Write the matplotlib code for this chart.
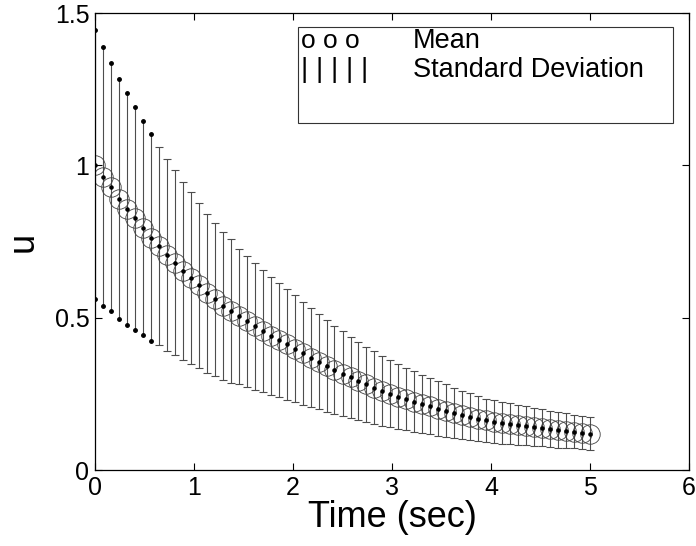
import numpy as np
import matplotlib
matplotlib.use('Agg')
import matplotlib.pyplot as plt
from matplotlib.patches import Rectangle

plt.rcParams['font.family'] = ['Liberation Sans', 'DejaVu Sans']

# sample times (sec)
time = [0.000, 0.081, 0.161, 0.242, 0.323, 0.403, 0.484, 0.565, 0.645, 0.726,
        0.806, 0.887, 0.968, 1.048, 1.129, 1.210, 1.290, 1.371, 1.452, 1.532,
        1.613, 1.694, 1.774, 1.855, 1.935, 2.016, 2.097, 2.177, 2.258, 2.339,
        2.419, 2.500, 2.581, 2.661, 2.742, 2.823, 2.903, 2.984, 3.065, 3.145,
        3.226, 3.306, 3.387, 3.468, 3.548, 3.629, 3.710, 3.790, 3.871, 3.952,
        4.032, 4.113, 4.194, 4.274, 4.355, 4.435, 4.516, 4.597, 4.677, 4.758,
        4.839, 4.919, 5.000]

# mean of u
u_mean = [1.003, 0.963, 0.928, 0.891, 0.857, 0.826, 0.794, 0.763, 0.736, 0.707,
          0.681, 0.654, 0.631, 0.607, 0.581, 0.560, 0.539, 0.522, 0.505, 0.488,
          0.472, 0.456, 0.441, 0.427, 0.413, 0.399, 0.384, 0.369, 0.355, 0.342,
          0.329, 0.316, 0.304, 0.293, 0.281, 0.271, 0.260, 0.250, 0.241, 0.233,
          0.225, 0.217, 0.209, 0.202, 0.195, 0.188, 0.181, 0.175, 0.169, 0.163,
          0.159, 0.156, 0.152, 0.149, 0.145, 0.142, 0.139, 0.135, 0.132, 0.129,
          0.126, 0.123, 0.120]

# standard deviation of u
u_std = [0.441, 0.426, 0.407, 0.394, 0.381, 0.366, 0.352, 0.339, 0.325, 0.315,
         0.303, 0.292, 0.282, 0.271, 0.261, 0.251, 0.243, 0.235, 0.222, 0.215,
         0.208, 0.201, 0.194, 0.188, 0.182, 0.176, 0.169, 0.162, 0.156, 0.150,
         0.145, 0.139, 0.134, 0.129, 0.124, 0.119, 0.114, 0.110, 0.106, 0.103,
         0.099, 0.095, 0.092, 0.089, 0.086, 0.083, 0.080, 0.077, 0.074, 0.072,
         0.070, 0.069, 0.067, 0.066, 0.064, 0.062, 0.061, 0.059, 0.058, 0.057,
         0.055, 0.054, 0.053]

t = np.array(time)
m = np.array(u_mean)
s = np.array(u_std)

fig = plt.figure(figsize=(6.96, 5.46), dpi=100)
ax = fig.add_axes([0.1365, 0.139, 0.8535, 0.837])

# error bars (std) - first 8 drawn with dots at the ends instead of caps
ax.errorbar(t[:8], m[:8], yerr=s[:8], fmt='none', ecolor='0.3',
            elinewidth=0.8, capsize=0)
ax.errorbar(t[8:], m[8:], yerr=s[8:], fmt='none', ecolor='0.3',
            elinewidth=0.8, capsize=3, capthick=0.8)
ax.plot(t[:8], m[:8] + s[:8], '.', color='k', markersize=5)
ax.plot(t[:8], m[:8] - s[:8], '.', color='k', markersize=5)

# mean: open circles with a dot
ax.plot(t, m, 'o', mfc='none', mec='0.25', mew=0.6, markersize=14)
ax.plot(t, m, '.', color='k', markersize=4.5)

ax.set_xlim(0, 6)
ax.set_ylim(0, 1.5)
ax.set_xticks([0, 1, 2, 3, 4, 5, 6])
ax.set_yticks([0, 0.5, 1, 1.5])
ax.set_yticklabels(['0', '0.5', '1', '1.5'])
ax.tick_params(direction='in', length=5, width=0.8, labelsize=18,
               top=True, right=True, pad=4)
for sp in ax.spines.values():
    sp.set_linewidth(0.9)

ax.set_xlabel('Time (sec)', fontsize=26, labelpad=0)
ax.set_ylabel('u', fontsize=26, labelpad=10)

# old style legend box
ax.add_patch(Rectangle((0.342, 0.759), 0.631, 0.21, transform=ax.transAxes,
                       fill=False, edgecolor='0.2', linewidth=0.8))
ax.text(0.347, 0.939, 'o o o', transform=ax.transAxes, fontsize=19,
        va='center', ha='left')
ax.text(0.347, 0.875, '| | | | |', transform=ax.transAxes, fontsize=20,
        va='center', ha='left')
ax.text(0.535, 0.939, 'Mean', transform=ax.transAxes, fontsize=19.5,
        va='center', ha='left')
ax.text(0.535, 0.875, 'Standard Deviation', transform=ax.transAxes,
        fontsize=19.5, va='center', ha='left')

fig.savefig('out.png', dpi=100)
